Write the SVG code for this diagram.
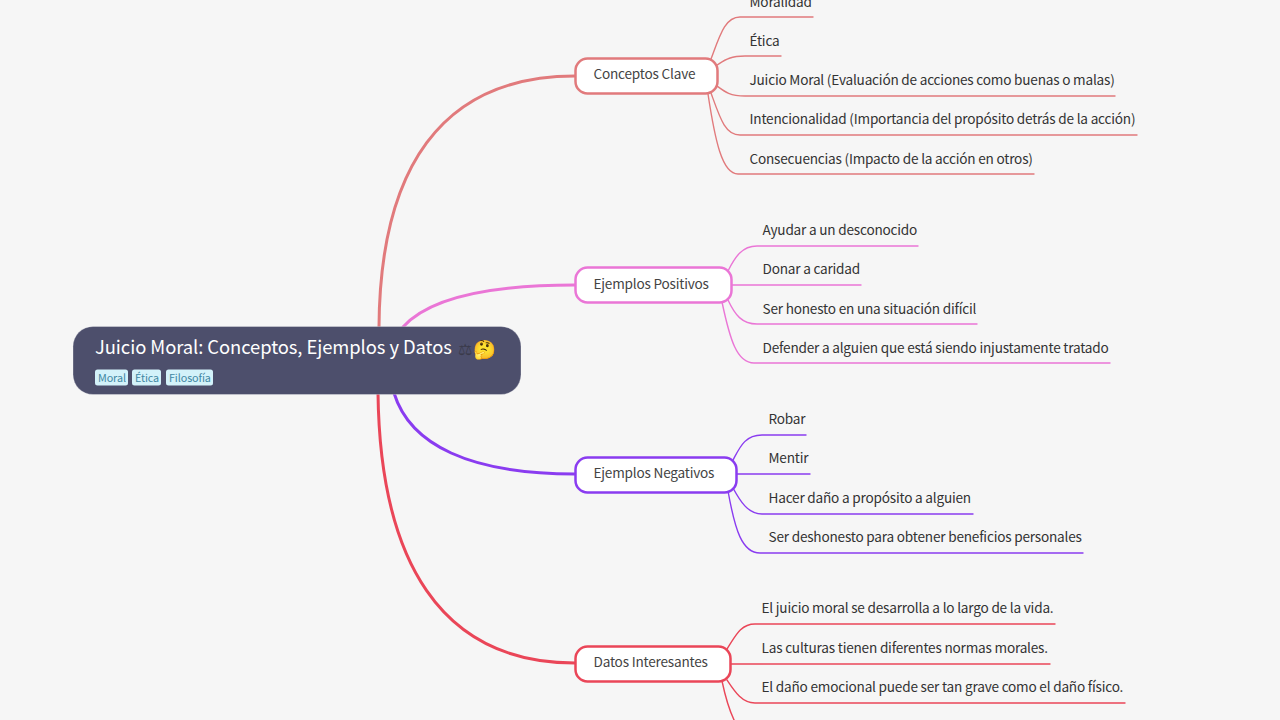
<svg xmlns="http://www.w3.org/2000/svg" width="1280" height="720" viewBox="0 0 1280 720">
<style>
text{font-family:"Noto Sans CJK JP","Noto Sans",sans-serif;font-size:13.6px;letter-spacing:-.2px;fill:#333}
.w{fill:none;stroke-linecap:round}
.m{stroke-width:3}
.s{stroke-width:1.4}
.r{stroke:#e17a7c}.p{stroke:#ea76d6}.v{stroke:#8a3cf0}.d{stroke:#ea4658}
.n{fill:#fff;stroke-width:2.5}
.l{fill:#444}
.tag{fill:#d3f2fa}
.tt{font-size:10.800px;letter-spacing:-.1px;fill:#3f87a3}
</style>
<rect width="1280" height="720" fill="#f6f6f6"/>
<g id="connectors">
<path class="w m r" d="M379 327C380 170 440 76 575 76"/>
<path class="w m p" d="M403 327C430 297 490 285 575 285"/>
<path class="w m v" d="M394 393C410 445 470 474 575 474"/>
<path class="w m d" d="M378 393C380 560 440 663 575 663"/>
<path class="w s r" d="M711 59C720 35 725 17 740 17H813"/>
<path class="w s r" d="M717 65C725 60 730 56 745 56H781"/>
<path class="w s r" d="M717 86C725 92 730 96 745 96H1115"/>
<path class="w s r" d="M711 93C720 118 725 135 740 135H1137"/>
<path class="w s r" d="M708 94C715 140 722 174 738 174H1034"/>
<path class="w s p" d="M728 271C735 257 742 246 757 246H918"/>
<path class="w s p" d="M732 285H861"/>
<path class="w s p" d="M728 300C735 315 742 324 757 324H977"/>
<path class="w s p" d="M722 302C730 340 737 363 754 363H1110"/>
<path class="w s v" d="M733 460C740 447 745 435 762 435H806"/>
<path class="w s v" d="M737 474H810"/>
<path class="w s v" d="M733 488C740 501 748 514 762 514H973"/>
<path class="w s v" d="M728 491C735 530 742 553 760 553H1083"/>
<path class="w s d" d="M727 649C735 637 740 624 755 624H1055"/>
<path class="w s d" d="M731 664H1050"/>
<path class="w s d" d="M727 680C735 692 742 703 755 703H1125"/>
<path class="w s d" d="M722 681C726 700 730 712 735 722"/>
</g>
<g id="root">
<rect x="73" y="326.500" width="448" height="68" rx="20" fill="#4d4f6c" stroke="#fff" stroke-opacity=".3"/>
<text x="95" y="354" style="font-size:18.400px;letter-spacing:-.07px;fill:#fff">Juicio Moral: Conceptos, Ejemplos y Datos</text>
<text x="458" y="355" style="font-family:'DejaVu Sans',sans-serif;font-size:16px;letter-spacing:0;fill:#3a3a4a">⚖</text>
<text x="473" y="355.500" style="font-size:18.500px;letter-spacing:0">🤔</text>
<rect class="tag" x="95" y="369.500" width="33" height="16" rx="2.500"/>
<text class="tt" x="98" y="382">Moral</text>
<rect class="tag" x="132" y="369.500" width="29" height="16" rx="2.500"/>
<text class="tt" x="135" y="382">Ética</text>
<rect class="tag" x="166" y="369.500" width="47" height="16" rx="2.500"/>
<text class="tt" x="169" y="382">Filosofía</text>
</g>
<g id="n1"><rect class="n r" x="575.500" y="58.500" width="142" height="35" rx="12"/><text class="l" x="593.500" y="79">Conceptos Clave</text></g>
<g id="n2"><rect class="n p" x="575.500" y="267.500" width="156" height="35" rx="12"/><text class="l" x="593.500" y="289">Ejemplos Positivos</text></g>
<g id="n3"><rect class="n v" x="575.500" y="457.500" width="161" height="35" rx="12"/><text class="l" x="593.500" y="478">Ejemplos Negativos</text></g>
<g id="n4"><rect class="n d" x="575.500" y="646.500" width="155" height="35" rx="12"/><text class="l" x="593.500" y="667">Datos Interesantes</text></g>
<g id="leaves">
<text x="749.500" y="7">Moralidad</text>
<text x="749.500" y="46">Ética</text>
<text x="749.500" y="85">Juicio Moral (Evaluación de acciones como buenas o malas)</text>
<text x="749.500" y="124">Intencionalidad (Importancia del propósito detrás de la acción)</text>
<text x="749.500" y="163.500">Consecuencias (Impacto de la acción en otros)</text>
<text x="762.500" y="235">Ayudar a un desconocido</text>
<text x="762.500" y="274">Donar a caridad</text>
<text x="762.500" y="314">Ser honesto en una situación difícil</text>
<text x="762.500" y="353">Defender a alguien que está siendo injustamente tratado</text>
<text x="768.500" y="424">Robar</text>
<text x="768.500" y="463">Mentir</text>
<text x="768.500" y="503">Hacer daño a propósito a alguien</text>
<text x="768.500" y="542">Ser deshonesto para obtener beneficios personales</text>
<text x="761.500" y="613">El juicio moral se desarrolla a lo largo de la vida.</text>
<text x="761.500" y="653">Las culturas tienen diferentes normas morales.</text>
<text x="761.500" y="692">El daño emocional puede ser tan grave como el daño físico.</text>
</g>
</svg>
